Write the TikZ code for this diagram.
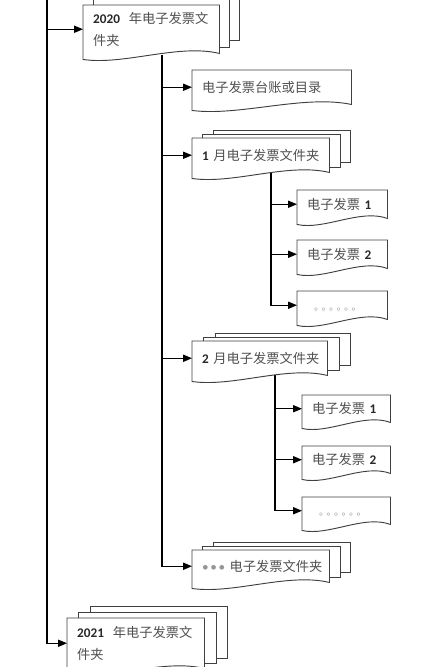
\documentclass[tikz,border=0pt]{standalone}
\usepackage{fontspec}
\setmainfont{Noto Sans CJK SC}
\newfontfamily\numfont{Carlito}
\usepackage{xcolor}
\definecolor{docline}{RGB}{64,64,64}
\definecolor{doctext}{RGB}{80,80,80}
\definecolor{docnum}{RGB}{40,40,40}
\definecolor{dotgray}{RGB}{150,150,150}
\usetikzlibrary{arrows.meta, calc, backgrounds}

\newdimen\pxl \pxl=0.03cm
\newcommand{\numtxt}[1]{{\numfont\bfseries\color{docnum}#1}}
\newcommand{\ringdot}{。\hspace{-0.25em}}
\newcommand{\circrow}{\vphantom{电}\hspace*{7\pxl}\mbox{\fontsize{8.5}{10}\selectfont\color{dotgray}\ringdot\ringdot\ringdot\ringdot\ringdot。}}
\newcommand{\dotrow}{\mbox{\numfont\color{dotgray}•\hspace{0.12em}•\hspace{0.12em}•}}

% front sheet with wavy lower edge
\newcommand{\docshape}[1]{%
  \draw[sheet] (#1.north west) -- (#1.north east) -- (#1.south east)
    .. controls ($(#1.south east)!0.3!(#1.south west)+(0,-10)$)
    and ($(#1.south west)!0.3!(#1.south east)+(0,12)$)
    .. ($(#1.south west)+(0,6)$) -- cycle;}
% two sheets behind a folder: name, dx, dy, bottom step
\newcommand{\docstack}[4]{%
  \foreach \k in {2,1}{
    \draw[sheet] ($(#1.north west)+(\k*#2,-\k*#3)$) rectangle ($(#1.south east)+(\k*#2,-\k*#4)$);
  }}

\tikzset{
  docbox/.style n args={3}{anchor=north west, minimum width=#1*\pxl, minimum height=#2*\pxl,
    text width=#3, inner xsep=10\pxl, inner ysep=0pt, align=left, text=doctext,
    font=\fontsize{11.3}{18.7}\selectfont},
  sheet/.style={draw=docline, line width=0.8pt, fill=white},
  conn/.style={draw=black, line width=1.1pt},
  arr/.style={conn, -{Triangle[length=7.5pt,width=6pt]}},
}

\begin{document}
\begin{tikzpicture}[x=0.03cm, y=-0.03cm]
  \useasboundingbox (0,0) rectangle (433,667);
  % year folders
  \node[docbox={136}{48}{3.48cm}] (y2020) at (83,5) {\numtxt{2020}~~年电子发票文\\件夹};
  \node[docbox={137}{50}{3.51cm}] (y2021) at (67,618) {\numtxt{2021}~~年电子发票文\\件夹};
  % inside 2020
  \node[docbox={159}{34}{4.17cm}] (ledger) at (192,70) {电子发票台账或目录};
  \node[docbox={137}{34}{3.51cm}] (m1) at (192,138) {\numtxt{1}~月电子发票文件夹};
  \node[docbox={135}{34}{3.45cm}] (m2) at (192,341) {\numtxt{2}~月电子发票文件夹};
  \node[docbox={137}{32}{3.51cm}] (mdots) at (192,550) {\dotrow~电子发票文件夹};
  % January
  \node[docbox={90}{28}{2.1cm}] (inv1a) at (297,190) {电子发票~\numtxt{1}};
  \node[docbox={90}{28}{2.1cm}] (inv2a) at (297,240) {电子发票~\numtxt{2}};
  \node[docbox={90}{28}{2.1cm}] (dotsA) at (297,291) {\circrow};
  % February
  \node[docbox={88}{27}{2.04cm}] (inv1b) at (302,395) {电子发票~\numtxt{1}};
  \node[docbox={88}{27}{2.04cm}] (inv2b) at (302,446) {电子发票~\numtxt{2}};
  \node[docbox={88}{27}{2.04cm}] (dotsB) at (302,497) {\circrow};

  \coordinate (rootTop) at (47,-5);
  \coordinate (t2020) at (162,55);
  \coordinate (t1) at (271,170);
  \coordinate (t2) at (275,372);

  \begin{pgfonlayer}{background}
    % connectors
    \draw[arr] (rootTop) |- (y2020.west);
    \draw[arr] (rootTop) |- (y2021.west);
    \foreach \n in {ledger,m1,m2,mdots} \draw[arr] (t2020) |- (\n.west);
    \foreach \n in {inv1a,inv2a,dotsA} \draw[arr] (t1) |- (\n.west);
    \foreach \n in {inv1b,inv2b,dotsB} \draw[arr] (t2) |- (\n.west);
    % paper stacks, then front sheets
    \docstack{y2020}{10}{6}{6.5}
    \docstack{y2021}{11.5}{6}{5}
    \docstack{m1}{10.5}{3.7}{5}
    \docstack{m2}{11.5}{4}{5}
    \docstack{mdots}{10.5}{4}{5}
    \foreach \n in {y2020,y2021,ledger,m1,m2,mdots,inv1a,inv2a,dotsA,inv1b,inv2b,dotsB}
      \docshape{\n};
  \end{pgfonlayer}
\end{tikzpicture}
\end{document}
